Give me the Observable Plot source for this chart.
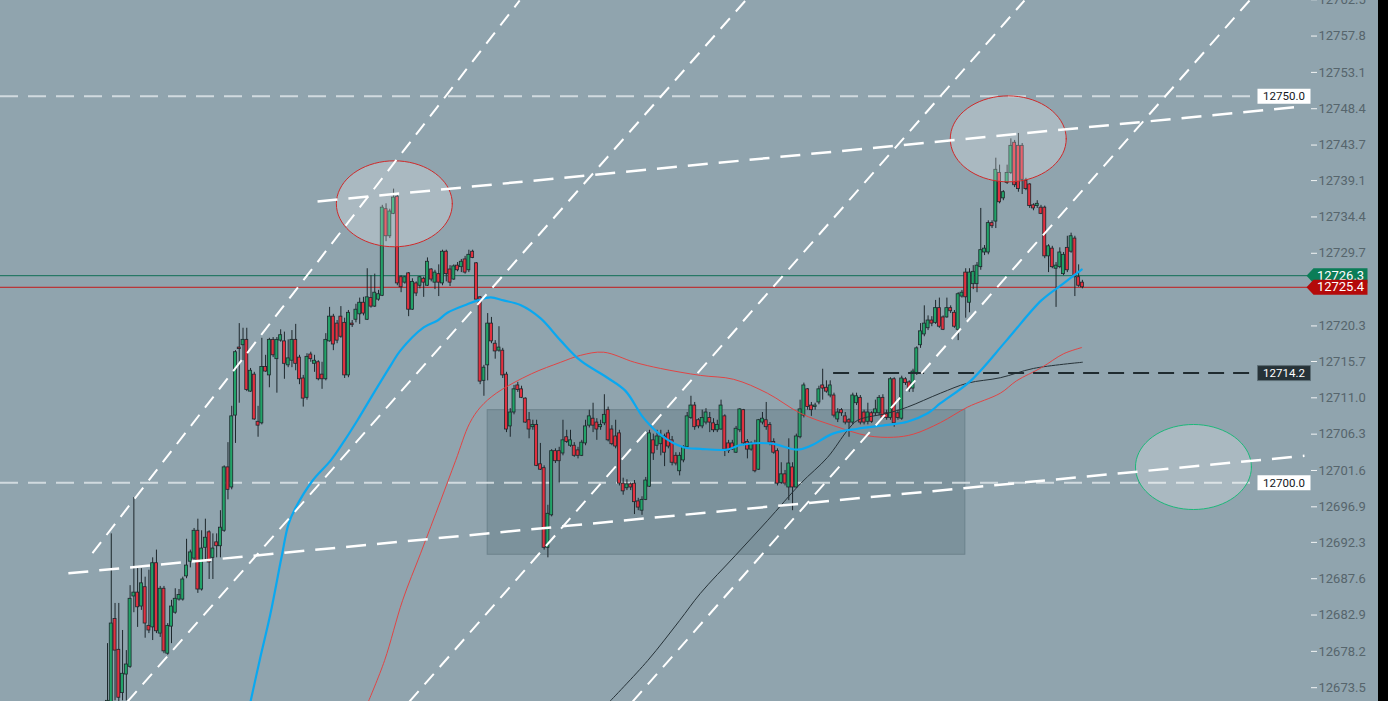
<!DOCTYPE html>
<html><head><meta charset="utf-8">
<script src="https://cdn.jsdelivr.net/npm/d3@7"></script>
<script src="https://cdn.jsdelivr.net/npm/@observablehq/plot@0.6"></script>
<style>
html,body{margin:0;padding:0;background:#000;overflow:hidden;}
#chart{width:1378px;height:701px;}
</style></head><body><div id="chart"></div>
<script>
// ---- candle data (index = bar number) ----
const O=[12668.6,12671.2,12682.4,12678.4,12672.8,12675.2,12676.2,12685.3,12685.8,12684.0,
12686.5,12681.5,12681.3,12689.6,12680.5,12686.3,12677.9,12681.4,12683.2,12684.9,
12684.9,12687.9,12689.8,12690.2,12693.8,12686.2,12691.6,12693.6,12690.3,12692.3,
12691.8,12693.8,12702.0,12699.4,12708.7,12717.5,12717.8,12718.5,12711.8,12714.0,
12707.9,12707.7,12715.0,12713.9,12718.5,12716.0,12718.4,12718.3,12715.2,12715.8,
12718.5,12716.2,12713.5,12711.0,12716.6,12715.4,12715.6,12714.0,12713.4,12718.3,
12721.5,12720.6,12721.5,12720.7,12713.9,12720.6,12721.1,12721.8,12723.3,12721.1,
12723.9,12722.8,12723.7,12724.2,12735.4,12731.9,12734.8,12737.0,12726.6,12725.9,
12727.1,12722.4,12725.8,12725.5,12726.4,12725.5,12727.6,12725.9,12727.0,12725.8,
12729.9,12727.6,12726.3,12728.1,12727.9,12728.9,12727.5,12729.9,12728.4,12724.0,
12713.2,12715.2,12720.6,12718.0,12717.1,12717.1,12714.0,12707.3,12709.1,12712.6,
12712.1,12710.9,12708.1,12707.2,12707.5,12702.4,12701.9,12691.6,12695.8,12704.1,
12704.1,12703.8,12705.9,12704.8,12704.8,12704.2,12703.5,12705.1,12707.4,12708.3,
12707.8,12707.2,12707.7,12709.4,12706.9,12706.0,12706.4,12699.9,12699.3,12699.8,
12699.9,12697.6,12696.4,12697.8,12699.5,12705.5,12704.8,12705.0,12706.0,12706.4,
12705.5,12703.5,12701.5,12702.9,12704.6,12708.4,12710.0,12708.1,12707.3,12707.8,
12708.4,12707.7,12706.8,12706.9,12708.6,12705.1,12705.1,12703.9,12706.8,12709.4,
12705.3,12704.3,12705.0,12701.7,12707.8,12708.1,12707.5,12705.3,12704.1,12700.0,
12701.1,12699.4,12702.0,12699.4,12705.9,12708.7,12712.1,12710.0,12709.8,12710.4,
12712.6,12712.3,12711.3,12711.3,12708.2,12709.4,12708.6,12708.1,12707.8,12710.3,
12711.0,12709.1,12707.9,12709.0,12709.0,12709.0,12711.0,12709.0,12708.4,12713.4,
12709.0,12708.3,12713.4,12713.0,12712.2,12714.1,12717.8,12719.2,12720.0,12721.0,
12720.7,12722.6,12721.4,12721.4,12722.6,12722.0,12719.8,12724.1,12727.2,12723.3,
12725.7,12725.7,12727.9,12729.8,12729.8,12733.6,12733.8,12740.1,12736.8,12738.8,
12740.1,12744.0,12743.6,12743.6,12739.1,12738.6,12735.9,12735.8,12735.6,12735.6,
12729.3,12730.3,12727.7,12727.9,12727.0,12730.4,12729.9,12731.6,12726.6,12725.9];
const H=[12679.2,12693.4,12684.4,12684.4,12680.9,12678.3,12686.7,12698.1,12688.9,12688.9,
12687.8,12688.7,12690.3,12691.3,12686.6,12686.6,12681.8,12684.8,12686.3,12686.2,
12687.8,12692.7,12691.3,12694.1,12695.3,12693.8,12695.3,12693.8,12693.4,12693.4,
12696.4,12702.2,12705.2,12709.9,12717.1,12720.6,12720.0,12720.0,12714.8,12714.3,
12709.9,12718.7,12716.5,12718.7,12718.8,12718.8,12719.8,12719.5,12718.5,12719.7,
12720.5,12716.5,12713.9,12716.7,12716.9,12716.5,12715.8,12715.6,12719.3,12722.7,
12721.8,12721.0,12722.8,12721.3,12722.3,12721.0,12723.1,12723.9,12724.0,12727.7,
12726.8,12727.0,12724.9,12735.9,12736.1,12735.4,12738.0,12737.2,12726.8,12726.7,
12727.2,12726.4,12726.0,12726.7,12726.6,12729.1,12727.7,12727.5,12728.2,12730.1,
12730.1,12728.1,12728.2,12728.5,12728.9,12729.3,12730.1,12730.1,12728.5,12724.1,
12715.2,12721.9,12721.4,12718.4,12720.2,12717.4,12714.3,12709.6,12712.6,12713.0,
12712.5,12711.0,12709.1,12708.1,12708.1,12705.1,12702.2,12697.1,12704.3,12704.4,
12704.6,12708.1,12706.8,12706.8,12705.2,12704.6,12705.5,12708.1,12709.4,12710.3,
12708.3,12708.1,12711.4,12709.8,12707.4,12708.1,12706.8,12700.6,12700.4,12700.0,
12700.3,12698.0,12698.2,12700.7,12706.8,12706.3,12706.8,12706.8,12706.3,12706.8,
12706.0,12703.9,12703.9,12704.8,12709.1,12711.2,12710.4,12708.3,12709.4,12709.6,
12709.1,12708.3,12708.1,12710.7,12708.8,12705.5,12705.5,12707.3,12709.6,12709.5,
12705.6,12705.3,12705.5,12708.2,12709.1,12710.4,12707.8,12705.7,12704.4,12702.6,
12701.6,12705.7,12702.6,12706.3,12710.7,12712.9,12712.2,12710.4,12710.3,12712.5,
12714.7,12713.2,12713.2,12711.6,12709.6,12709.6,12709.1,12708.3,12711.6,12711.6,
12711.3,12709.4,12710.3,12709.2,12710.7,12711.3,12711.4,12709.4,12713.6,12713.6,
12709.4,12713.8,12713.6,12713.2,12714.7,12717.6,12720.6,12722.9,12721.6,12721.5,
12723.6,12723.9,12721.6,12723.9,12722.9,12722.3,12724.6,12724.9,12727.7,12727.7,
12728.1,12728.5,12735.5,12730.7,12733.9,12733.9,12742.0,12741.1,12737.8,12741.1,
12744.5,12744.3,12745.2,12743.9,12739.4,12738.7,12736.1,12736.5,12735.9,12735.8,
12730.8,12730.6,12728.5,12730.4,12729.8,12731.9,12732.3,12731.9,12728.2,12726.2];
const L=[12668.0,12670.3,12671.8,12671.6,12671.8,12671.8,12676.0,12683.2,12681.3,12683.5,
12679.9,12680.5,12679.6,12680.5,12680.0,12677.9,12677.7,12679.2,12683.0,12684.7,
12684.7,12687.6,12689.0,12690.0,12685.7,12686.0,12690.0,12687.5,12687.5,12690.3,
12690.3,12693.6,12697.8,12699.1,12705.1,12710.3,12715.8,12711.8,12711.7,12708.1,
12705.9,12707.5,12714.3,12712.3,12716.2,12711.6,12718.2,12713.4,12714.9,12714.9,
12714.5,12712.7,12709.8,12710.7,12715.6,12714.3,12713.2,12712.1,12713.2,12718.2,
12717.1,12718.0,12718.7,12713.5,12713.6,12720.1,12720.7,12720.5,12721.6,12721.0,
12722.6,12722.7,12723.5,12724.1,12731.2,12731.6,12734.7,12725.5,12724.6,12725.7,
12721.5,12722.3,12724.1,12725.1,12724.0,12725.4,12726.0,12725.0,12724.1,12725.5,
12726.0,12725.4,12726.2,12727.3,12727.2,12727.0,12727.2,12729.0,12723.6,12712.7,
12711.2,12713.2,12718.0,12716.0,12716.9,12713.5,12706.5,12705.9,12708.8,12711.7,
12710.9,12707.7,12705.7,12706.8,12702.1,12701.6,12691.3,12690.3,12695.6,12702.5,
12700.0,12703.5,12705.1,12704.6,12703.3,12703.1,12703.4,12704.8,12707.1,12706.5,
12705.5,12706.8,12707.4,12705.3,12704.8,12704.4,12699.6,12698.4,12699.0,12699.0,
12695.9,12696.4,12695.8,12697.7,12699.4,12702.9,12704.2,12703.5,12702.1,12704.4,
12702.2,12702.2,12700.9,12702.6,12704.4,12708.2,12706.8,12707.0,12707.0,12707.5,
12706.5,12706.5,12706.5,12706.8,12703.4,12703.8,12704.2,12703.8,12706.5,12704.8,
12703.1,12704.1,12701.3,12701.6,12707.5,12706.8,12704.8,12703.7,12699.6,12699.8,
12699.6,12697.7,12696.4,12699.3,12705.7,12708.4,12709.4,12708.6,12709.4,12710.1,
12710.7,12711.6,12711.0,12708.4,12707.8,12708.6,12707.5,12705.9,12707.5,12710.0,
12707.5,12707.5,12707.5,12707.7,12708.6,12708.7,12708.2,12708.1,12708.1,12707.2,
12708.1,12708.1,12712.6,12711.7,12711.7,12713.9,12717.4,12718.9,12719.7,12720.2,
12720.5,12720.0,12719.7,12721.3,12721.9,12720.0,12718.4,12723.9,12721.3,12722.0,
12725.0,12724.6,12727.5,12729.4,12729.5,12732.9,12732.9,12736.1,12736.5,12738.6,
12739.9,12738.2,12737.6,12737.3,12737.8,12735.5,12735.2,12735.5,12734.7,12729.0,
12727.2,12727.7,12722.7,12727.7,12726.8,12727.2,12729.7,12724.1,12725.3,12725.1];
const C=[12671.8,12681.8,12678.3,12672.2,12675.3,12676.5,12685.0,12685.8,12683.9,12687.0,
12681.8,12680.9,12689.6,12680.8,12686.3,12678.2,12681.5,12684.0,12685.0,12685.5,
12687.5,12689.3,12691.0,12693.8,12686.2,12691.5,12692.9,12689.7,12691.5,12691.8,
12694.2,12702.0,12699.1,12708.6,12716.9,12717.3,12718.5,12712.0,12714.5,12708.2,
12707.4,12715.0,12714.4,12718.5,12716.5,12718.5,12719.1,12715.4,12716.1,12718.5,
12715.4,12713.4,12710.9,12716.3,12716.0,12715.8,12713.4,12713.4,12718.5,12721.5,
12717.9,12718.4,12718.9,12713.9,12722.0,12720.4,12722.4,12723.3,12721.9,12724.0,
12722.8,12724.6,12724.4,12735.6,12731.9,12735.1,12736.9,12725.8,12725.3,12726.6,
12722.4,12726.0,12724.5,12726.6,12725.9,12728.6,12726.3,12727.2,12725.9,12729.9,
12727.0,12725.9,12728.0,12727.5,12728.6,12727.2,12729.5,12729.1,12723.7,12713.1,
12714.9,12720.6,12718.3,12717.0,12717.5,12713.9,12706.9,12709.1,12712.1,12712.0,
12711.0,12707.8,12706.9,12707.5,12702.2,12701.7,12691.6,12696.0,12704.1,12702.8,
12702.8,12705.5,12705.3,12705.5,12703.5,12703.5,12705.2,12707.3,12708.6,12707.4,
12706.9,12707.5,12708.8,12705.5,12705.0,12704.7,12699.9,12698.9,12699.8,12699.4,
12697.5,12696.8,12697.8,12700.3,12706.4,12703.8,12706.0,12706.0,12703.9,12704.7,
12702.6,12702.5,12703.5,12704.6,12708.6,12710.0,12707.2,12707.3,12708.4,12709.1,
12707.8,12706.8,12707.5,12710.0,12704.3,12704.1,12704.3,12707.0,12709.5,12705.1,
12704.3,12705.1,12701.5,12708.1,12708.3,12707.2,12705.2,12703.9,12699.9,12701.1,
12699.9,12702.5,12699.4,12706.0,12709.5,12712.6,12709.8,12709.4,12710.0,12712.1,
12712.2,12711.8,12712.6,12708.7,12709.1,12709.0,12707.8,12707.8,12711.3,12711.2,
12707.8,12707.8,12709.1,12707.9,12709.5,12711.0,12708.4,12708.4,12713.4,12707.7,
12708.4,12713.5,12712.9,12712.1,12714.4,12717.4,12719.6,12720.6,12721.0,12720.6,
12722.6,12720.2,12719.8,12722.6,12722.2,12720.2,12724.4,12724.6,12724.0,12727.2,
12727.3,12728.1,12730.1,12730.3,12733.6,12733.2,12740.5,12736.3,12737.6,12740.1,
12743.6,12738.5,12738.0,12739.2,12738.0,12735.8,12735.5,12736.1,12734.8,12729.3,
12730.6,12727.9,12728.1,12729.8,12729.5,12727.5,12731.9,12726.6,12725.5,12725.3];

// ---- moving averages (bar index, value) ----
const blueX=[38.0,40.4,43.3,46.2,48.1,49.9,54.5,59.3,63.0,66.4,71.2,75.5,77.8,84.0,87.7,90.3,95.6,98.3,101.8,105.2,109.7,115.0,120.4,125.7,132.8,137.6,142.4,147.2,153.0,157.5,164.7,168.2,176.1,183.3,186.8,192.9,199.3,207.2,212.5,217.9,221.3,229.3,238.8,248.1,254.0,258.8];
const blueY=[12671.7,12677.0,12683.1,12690.3,12694.7,12696.7,12700.3,12702.9,12705.5,12708.1,12712.0,12715.4,12717.1,12720.1,12721.0,12722.0,12723.1,12723.6,12724.0,12723.6,12723.0,12721.3,12718.4,12715.8,12713.6,12711.9,12708.4,12706.1,12704.6,12704.4,12704.3,12704.9,12705.1,12704.3,12704.8,12706.4,12707.0,12707.5,12707.9,12709.0,12710.3,12713.2,12718.4,12723.6,12725.8,12727.6];
const redX=[69.3,73.6,78.4,83.2,88.5,92.5,96.2,99.1,103.3,112.6,120.4,125.7,131.8,140.0,146.9,157.5,166.3,175.3,184.1,192.9,201.9,208.8,214.1,221.3,228.5,237.2,241.5,248.1,254.0,258.8];
const redY=[12671.7,12677.0,12684.8,12690.9,12697.7,12702.9,12707.7,12709.8,12711.6,12714.1,12715.6,12716.5,12716.9,12715.6,12714.8,12713.9,12713.4,12711.6,12709.0,12707.4,12706.1,12705.9,12706.3,12707.8,12709.8,12711.6,12713.2,12714.9,12716.7,12717.5];
const blackX=[133.4,143.5,152.0,157.5,166.8,175.3,184.1,191.3,196.6,199.3,207.2,212.5,221.3,228.5,237.2,246.0,259.0];
const blackY=[12671.7,12677.0,12682.2,12685.7,12690.6,12695.1,12699.9,12703.3,12706.8,12708.1,12709.0,12709.8,12711.6,12712.9,12713.6,12714.8,12715.6];

// ---- drawings ----
const steepX1=[-4.0,5.3,80.2,139.5], steepY1=[12690.9,12671.7,12671.7,12671.7];
const steepX2=[109.5,169.5,243.6,303.4], steepY2=[12762.4,12762.4,12762.4,12762.4];
const flatX1=[55.8,-10.4], flatY1=[12736.4,12688.3];
const flatX2=[317.7,318.0], flatY2=[12748.7,12703.5];
const levelLines=[12750.0,12700.0];
const levelEndX=305.5;
const supportLevel=12714.2, supportStartX=192.9;
const boxX=[101.0,227.9], boxY=[12690.7,12709.4];
const ellCX=[76.2,239.3,288.5], ellCY=[12736.1,12744.5,12702.05];
const ellRX=[15.4,15.4,15.4], ellRY=[5.56,5.56,5.5];
const lastBid=12726.8, lastBidText="12726.3";
const lastPrice=12725.3, lastPriceText="12725.4";
const yTicks=[12762.5,12757.8,12753.1,12748.4,12743.7,12739.1,12734.4,12729.7,12720.3,12715.7,12711.0,12706.3,12701.6,12696.9,12692.3,12687.6,12682.9,12678.2,12673.5];

// ---- build ----
const xMin=-28.43, xMax=319.6;
const yMax=12762.4, yMin=12762.4-701/7.73;
const idx=d3.range(O.length);
const GREEN="#22a268", RED="#e2303f", EDGE="#1d272c";
const pts=(xs,ys)=>xs.map((x,i)=>({x,y:ys[i]}));
const ellipse=(k)=>d3.range(73).map(j=>{const t=j/72*2*Math.PI;return {x:ellCX[k]+ellRX[k]*Math.cos(t), y:ellCY[k]+ellRY[k]*Math.sin(t)};});
const steep=steepX1.map((_,i)=>({x1:steepX1[i],y1:steepY1[i],x2:steepX2[i],y2:steepY2[i]}));
const flat=flatX1.map((_,i)=>({x1:flatX1[i],y1:flatY1[i],x2:flatX2[i],y2:flatY2[i]}));

const tagSym={draw(ctx){ctx.moveTo(-31,0);ctx.lineTo(-24,-7.5);ctx.lineTo(30,-7.5);ctx.lineTo(30,7.5);ctx.lineTo(-24,7.5);ctx.closePath();}};
const boxSym={draw(ctx){ctx.moveTo(-26.5,-7.5);ctx.lineTo(26.5,-7.5);ctx.lineTo(26.5,7.5);ctx.lineTo(-26.5,7.5);ctx.closePath();}};
const atRight=()=>xMax;

const plot=Plot.plot({
  width:1378, height:701,
  marginLeft:0, marginRight:68, marginTop:0, marginBottom:0,
  x:{domain:[xMin,xMax], axis:null},
  y:{domain:[yMin,yMax]},
  style:{background:"#90a4ae", fontFamily:"Roboto, sans-serif", overflow:"hidden"},
  marks:[
    Plot.rect([0],{x1:()=>boxX[0],x2:()=>boxX[1],y1:()=>boxY[0],y2:()=>boxY[1],fill:"#546e7a",fillOpacity:0.34,stroke:"#6c828c",strokeWidth:1}),
    Plot.ruleY(levelLines,{x1:xMin,x2:levelEndX,stroke:"#dde4e7",strokeOpacity:0.85,strokeWidth:2,strokeDasharray:"18,10"}),
    Plot.ruleY([lastBid],{stroke:"#0f6e56",strokeWidth:1}),
    Plot.ruleY([lastPrice],{stroke:"#c41b1b",strokeWidth:1}),
    Plot.ruleX(idx,{x:i=>i,y1:i=>L[i],y2:i=>H[i],stroke:EDGE,strokeWidth:1}),
    Plot.rect(idx,{x1:i=>i-0.4,x2:i=>i+0.4,y1:i=>O[i],y2:i=>C[i],fill:i=>C[i]>=O[i]?GREEN:RED,stroke:EDGE,strokeWidth:0.8}),
    Plot.line(pts(blackX,blackY),{x:"x",y:"y",stroke:"#263238",strokeWidth:1,curve:"catmull-rom"}),
    Plot.line(pts(redX,redY),{x:"x",y:"y",stroke:"#e04545",strokeWidth:1,curve:"catmull-rom"}),
    Plot.line(pts(blueX,blueY),{x:"x",y:"y",stroke:"#0aa8f0",strokeWidth:2.2,curve:"catmull-rom"}),
    Plot.ruleY([supportLevel],{x1:supportStartX,x2:levelEndX,stroke:"#1f2b30",strokeWidth:2,strokeDasharray:"16,9"}),
    Plot.line(ellipse(0),{x:"x",y:"y",fill:"#ffffff",fillOpacity:0.24,stroke:"#cf2a2a",strokeWidth:1,curve:"linear-closed"}),
    Plot.line(ellipse(1),{x:"x",y:"y",fill:"#ffffff",fillOpacity:0.24,stroke:"#cf2a2a",strokeWidth:1,curve:"linear-closed"}),
    Plot.line(ellipse(2),{x:"x",y:"y",fill:"#ffffff",fillOpacity:0.24,stroke:"#1db87a",strokeWidth:1,curve:"linear-closed"}),
    Plot.link(steep,{x1:"x1",y1:"y1",x2:"x2",y2:"y2",stroke:"#ffffff",strokeWidth:2,strokeDasharray:"14,9"}),
    Plot.link(flat,{x1:"x1",y1:"y1",x2:"x2",y2:"y2",stroke:"#ffffff",strokeWidth:2.5,strokeDasharray:"20,11"}),
    // level labels
    Plot.dot([12750.0,12700.0],{x:atRight,y:d=>d,symbol:boxSym,fill:"#ffffff",stroke:"none",dx:-26.5}),
    Plot.text([12750.0,12700.0],{x:atRight,y:d=>d,text:d=>d.toFixed(1),fill:"#131722",fontSize:11.5,dx:-26.5,textAnchor:"middle"}),
    Plot.dot([supportLevel],{x:atRight,y:d=>d,symbol:boxSym,fill:"#263238",stroke:"#5d6e76",strokeWidth:1,dx:-26.5}),
    Plot.text([supportLevel],{x:atRight,y:d=>d,text:d=>d.toFixed(1),fill:"#ffffff",fontSize:11.5,dx:-26.5,textAnchor:"middle"}),
    // axis
    Plot.axisY({anchor:"right",ticks:yTicks,tickFormat:d=>d.toFixed(1),tickSize:6,tickPadding:2,fontSize:13,stroke:"#f2f4f5",fill:"#56656c",label:null}),
    // price tags
    Plot.dot([lastBid],{x:atRight,y:d=>d,symbol:tagSym,fill:"#0b7d57",stroke:"none",dx:27}),
    Plot.text([lastBidText],{x:atRight,y:()=>lastBid,text:d=>d,fill:"#ffffff",fontSize:13,dx:30,textAnchor:"middle"}),
    Plot.dot([lastPrice],{x:atRight,y:d=>d,symbol:tagSym,fill:"#b40a0a",stroke:"none",dx:27}),
    Plot.text([lastPriceText],{x:atRight,y:()=>lastPrice,text:d=>d,fill:"#ffffff",fontSize:13,dx:30,textAnchor:"middle"})
  ]
});
document.getElementById("chart").appendChild(plot);
</script>
</body></html>
